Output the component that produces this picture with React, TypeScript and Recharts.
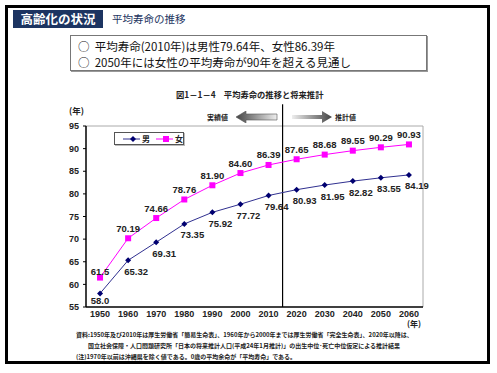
import React from 'react';
import { LineChart, Line, XAxis, YAxis, ReferenceLine, LabelList } from 'recharts';

const years = [1950, 1960, 1970, 1980, 1990, 2000, 2010, 2020, 2030, 2040, 2050, 2060];
const male = [58.0, 65.32, 69.31, 73.35, 75.92, 77.72, 79.64, 80.93, 81.95, 82.82, 83.55, 84.19];
const female = [61.5, 70.19, 74.66, 78.76, 81.9, 84.6, 86.39, 87.65, 88.68, 89.55, 90.29, 90.93];
const maleText = ['58.0', '65.32', '69.31', '73.35', '75.92', '77.72', '79.64', '80.93', '81.95', '82.82', '83.55', '84.19'];
const femaleText = ['61.5', '70.19', '74.66', '78.76', '81.90', '84.60', '86.39', '87.65', '88.68', '89.55', '90.29', '90.93'];
const yTicks = [55, 60, 65, 70, 75, 80, 85, 90, 95];
const splitYear = 2015;

const data = years.map((year, i) => ({ year, male: male[i], female: female[i] }));

const FONT = '"Liberation Sans", Arial, "Noto Sans CJK JP", sans-serif';
const JP = '"Noto Sans CJK JP", "Liberation Sans", sans-serif';
const MALE_COLOR = '#000070';
const FEMALE_COLOR = '#ff00ff';

const labelStyle = { fontSize: 9.5, fontWeight: 700, fill: '#222', fontFamily: FONT };

const MaleLabel = (props: any) => {
  const { x, y, index } = props;
  const dx = index === 0 ? 0 : 8;
  const dy = index === 0 ? 7 : 11;
  return (
    <text x={x + dx} y={y + dy} textAnchor="middle" dominantBaseline="central" style={labelStyle}>
      {maleText[index]}
    </text>
  );
};

const FemaleLabel = (props: any) => {
  const { x, y, index } = props;
  const dy = index === 0 ? -6 : -10;
  return (
    <text x={x} y={y + dy} textAnchor="middle" dominantBaseline="central" style={labelStyle}>
      {femaleText[index]}
    </text>
  );
};

const Diamond = (props: any) => {
  const { cx, cy } = props;
  if (cx == null || cy == null) return null;
  return <polygon points={`${cx},${cy - 3} ${cx + 3},${cy} ${cx},${cy + 3} ${cx - 3},${cy}`} fill={MALE_COLOR} />;
};

const Square = (props: any) => {
  const { cx, cy } = props;
  if (cx == null || cy == null) return null;
  return <rect x={cx - 3} y={cy - 3} width={6} height={6} fill={FEMALE_COLOR} />;
};

function Arrow({ dir }: { dir: 'left' | 'right' }) {
  const id = dir === 'left' ? 'gl' : 'gr';
  return (
    <svg width={42} height={12} style={{ display: 'block' }}>
      <defs>
        <linearGradient id={id} x1="0" x2="1" y1="0" y2="0">
          {dir === 'left' ? (
            <>
              <stop offset="0" stopColor="#444" />
              <stop offset="1" stopColor="#eee" />
            </>
          ) : (
            <>
              <stop offset="0" stopColor="#eee" />
              <stop offset="1" stopColor="#444" />
            </>
          )}
        </linearGradient>
      </defs>
      {dir === 'left' ? (
        <polygon points="0,6 10,0 10,3 41,3 41,9 10,9 10,12" fill={`url(#${id})`} stroke="#555" strokeWidth={0.6} />
      ) : (
        <polygon points="41,6 31,0 31,4 1,4 1,8 31,8 31,12" fill={`url(#${id})`} />
      )}
    </svg>
  );
}

export default function App() {
  return (
    <div style={{ position: 'absolute', left: 0, top: 0, width: 497, height: 373, background: '#fff', overflow: 'hidden' }}>
      <div style={{ position: 'absolute', left: 5, top: 5, width: 479, height: 353, border: '3px solid #000' }} />

      <div style={{ position: 'absolute', left: 13, top: 10, width: 90, height: 18, background: '#1c3461', color: '#fff', fontFamily: JP, fontWeight: 700, fontSize: 12.5, lineHeight: '18px', textAlign: 'center' }}>
        高齢化の状況
      </div>
      <div style={{ position: 'absolute', left: 112, top: 11, color: '#1c3461', fontFamily: JP, fontSize: 10.5, lineHeight: '16px' }}>
        平均寿命の推移
      </div>

      <div style={{ position: 'absolute', left: 70, top: 35, width: 357, height: 36, border: '1px solid #777', boxShadow: '1px 1px 0 #999', fontFamily: JP, fontSize: 11.5, lineHeight: '16px', padding: '2px 0 0 7px', boxSizing: 'border-box', color: '#111' }}>
        <div>○&nbsp;&nbsp;平均寿命(2010年)は男性79.64年、女性86.39年</div>
        <div>○&nbsp;&nbsp;2050年には女性の平均寿命が90年を超える見通し</div>
      </div>

      <div style={{ position: 'absolute', left: 176, top: 88, fontFamily: JP, fontSize: 8.3, fontWeight: 700, color: '#222', whiteSpace: 'nowrap' }}>
        図1－1－4　平均寿命の推移と将来推計
      </div>

      <div style={{ position: 'absolute', left: 207, top: 112, fontFamily: JP, fontSize: 7, fontWeight: 700, color: '#222' }}>実績値</div>
      <div style={{ position: 'absolute', left: 236, top: 111 }}><Arrow dir="left" /></div>
      <div style={{ position: 'absolute', left: 291, top: 111 }}><Arrow dir="right" /></div>
      <div style={{ position: 'absolute', left: 335, top: 112, fontFamily: JP, fontSize: 7, fontWeight: 700, color: '#222' }}>推計値</div>

      <div style={{ position: 'absolute', left: 69, top: 104, fontFamily: JP, fontSize: 8.5, fontWeight: 700, color: '#222' }}>(年)</div>
      <div style={{ position: 'absolute', left: 407, top: 319, fontFamily: JP, fontSize: 8, lineHeight: '10px', fontWeight: 700, color: '#222' }}>(年)</div>

      <div style={{ position: 'absolute', left: 0, top: 0 }}>
        <LineChart width={497} height={373} data={data} margin={{ top: 126, right: 74, bottom: 46, left: 46 }}>
          <XAxis
            dataKey="year"
            type="number"
            domain={[1945, 2065]}
            ticks={years}
            tickLine={false}
            tickSize={0}
            axisLine={{ stroke: '#000', strokeWidth: 1.5 }}
            tick={{ fontSize: 9, fontWeight: 700, fill: '#222', fontFamily: FONT }}
            tickMargin={4}
            height={20}
            interval={0}
          />
          <YAxis
            type="number"
            domain={[55, 95]}
            ticks={yTicks}
            width={40}
            axisLine={{ stroke: '#000', strokeWidth: 1.5 }}
            tickLine={{ stroke: '#000' }}
            tickSize={3}
            tick={{ fontSize: 9, fontWeight: 700, fill: '#222', fontFamily: FONT }}
            tickMargin={4}
            interval={0}
          />
          <ReferenceLine y={95} stroke="#aaa" />
          <ReferenceLine x={2065} stroke="#aaa" />
          <ReferenceLine
            segment={[{ x: splitYear, y: 55 }, { x: splitYear, y: 99.8 }]}
            stroke="#000"
            strokeWidth={1.2}
            ifOverflow="visible"
          />
          <Line dataKey="female" stroke={FEMALE_COLOR} strokeWidth={1} dot={<Square />} isAnimationActive={false}>
            <LabelList dataKey="female" content={<FemaleLabel />} />
          </Line>
          <Line dataKey="male" stroke="#303090" strokeWidth={1} dot={<Diamond />} isAnimationActive={false}>
            <LabelList dataKey="male" content={<MaleLabel />} />
          </Line>
        </LineChart>
      </div>

      <div style={{ position: 'absolute', left: 114, top: 132, width: 70, height: 13, border: '1px solid #555', boxShadow: '1px 1px 0 #bbb', background: '#fff', display: 'flex', alignItems: 'center', fontFamily: JP, fontSize: 8, fontWeight: 700, color: '#222', boxSizing: 'border-box' }}>
        <svg width={20} height={10} style={{ marginLeft: 8 }}>
          <line x1={0} y1={5} x2={20} y2={5} stroke="#303090" />
          <polygon points="10,2 13,5 10,8 7,5" fill={MALE_COLOR} />
        </svg>
        <span style={{ marginLeft: 2 }}>男</span>
        <svg width={20} height={10} style={{ marginLeft: 6 }}>
          <line x1={0} y1={5} x2={20} y2={5} stroke={FEMALE_COLOR} />
          <rect x={7} y={2} width={6} height={6} fill={FEMALE_COLOR} />
        </svg>
        <span style={{ marginLeft: 2 }}>女</span>
      </div>

      <div style={{ position: 'absolute', left: 76, top: 329, fontFamily: JP, fontSize: 6, fontWeight: 700, color: '#222', lineHeight: '11px', whiteSpace: 'nowrap' }}>
        <div>資料:1950年及び2010年は厚生労働省「簡易生命表」、1960年から2000年までは厚生労働省「完全生命表」、2020年以降は、</div>
        <div style={{ paddingLeft: 12 }}>国立社会保障・人口問題研究所「日本の将来推計人口(平成24年1月推計)」の出生中位･死亡中位仮定による推計結果</div>
        <div>(注)1970年以前は沖縄県を除く値である。0歳の平均余命が「平均寿命」である。</div>
      </div>
    </div>
  );
}
